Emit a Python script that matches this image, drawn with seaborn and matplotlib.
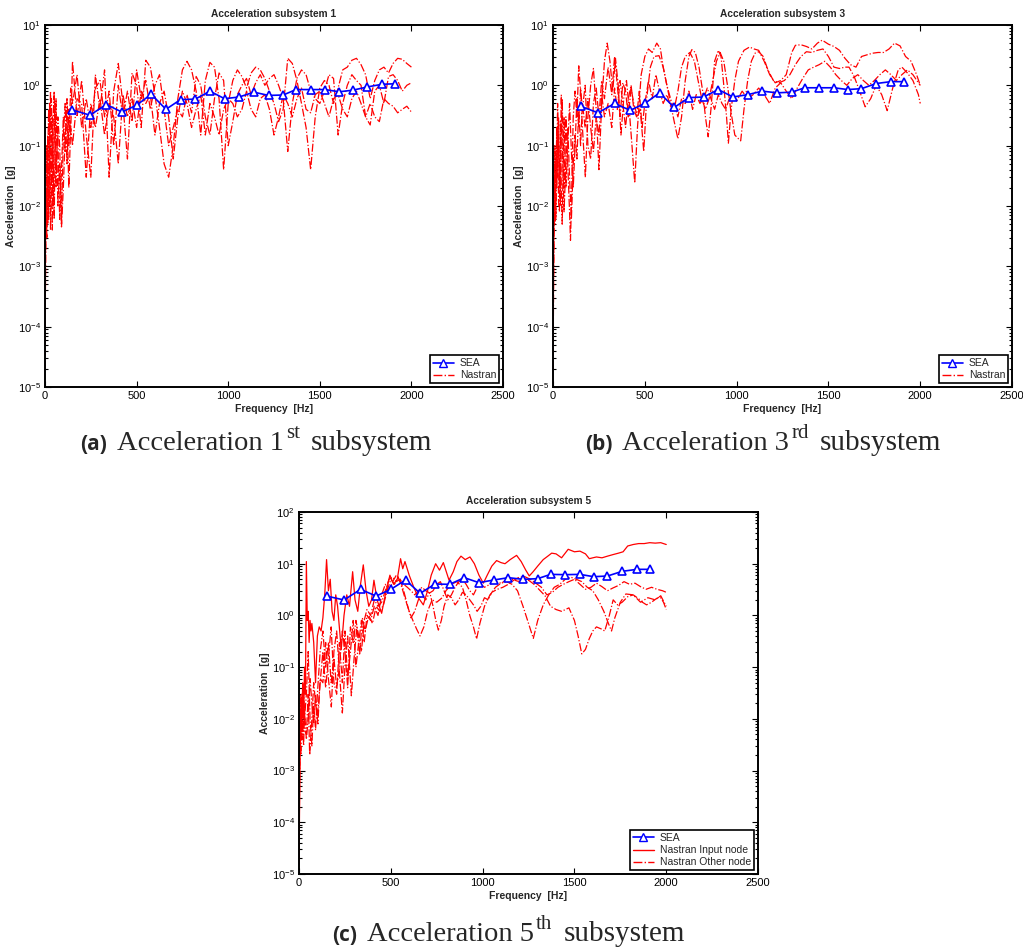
import numpy as np
import pandas as pd
import matplotlib
matplotlib.use("Agg")
import matplotlib.pyplot as plt
from matplotlib.lines import Line2D
import seaborn as sns

# ---------------- SEA band results (one value per band) ----------------
SEA_FREQ = [150, 245, 335, 420, 500, 580, 660, 740, 820, 900, 980, 1060,
            1140, 1220, 1300, 1370, 1450, 1530, 1605, 1680, 1760, 1840, 1910]
SEA_SUB1 = [0.39, 0.32, 0.48, 0.36, 0.47, 0.71, 0.40, 0.58, 0.59, 0.80, 0.60, 0.64,
            0.77, 0.68, 0.69, 0.85, 0.85, 0.85, 0.78, 0.83, 0.94, 1.04, 1.06]
SEA_SUB3 = [0.45, 0.35, 0.50, 0.385, 0.50, 0.75, 0.43, 0.625, 0.64, 0.85, 0.64, 0.70,
            0.80, 0.75, 0.77, 0.91, 0.91, 0.91, 0.85, 0.88, 1.07, 1.15, 1.15]
SEA_SUB5 = [2.37, 1.99, 3.19, 2.37, 3.19, 4.84, 2.67, 4.05, 3.99, 5.37, 4.30, 4.84,
            5.37, 4.99, 5.14, 6.22, 6.14, 6.22, 5.61, 5.78, 7.12, 7.78, 7.78]

# ---------------- Nastran responses, subsystem 1 ----------------
N1_FREQ = [0, 2, 5, 10, 15, 20, 25, 30, 35, 40, 45, 50, 55, 60, 70, 80, 90, 100, 110,
           120, 130, 140, 150, 175, 200, 225, 250, 275, 300, 325, 350, 375, 400, 425,
           450, 475, 500, 525, 550, 575, 600, 625, 650, 675, 700, 725, 750, 775, 800,
           825, 850, 875, 900, 925, 950, 975, 1000, 1025, 1050, 1075, 1100, 1125, 1150,
           1175, 1200, 1225, 1250, 1275, 1300, 1325, 1350, 1375, 1400, 1425, 1450, 1475,
           1500, 1525, 1550, 1575, 1600, 1625, 1650, 1675, 1700, 1725, 1750, 1775, 1800,
           1825, 1850, 1875, 1900, 1925, 1950, 1975, 2000]
N1_NODE_A = [2e-5, 3e-4, 0.003, 0.02, 0.15, 0.006, 0.1, 0.8, 0.05, 0.004, 0.3, 0.8, 0.06,
             0.02, 0.3, 0.1, 0.005, 0.15, 0.5, 0.05, 0.4, 0.15, 2.5, 0.3, 1.2, 0.15, 0.03,
             1.5, 0.4, 1.8, 0.03, 0.8, 2.3, 0.5, 0.06, 1.6, 1.0, 0.2, 2.6, 2.0, 0.7, 0.2,
             0.05, 0.03, 0.1, 0.6, 1.8, 2.5, 1.8, 0.8, 0.15, 1.2, 2.4, 2.0, 0.6, 0.04, 0.5,
             1.2, 1.8, 1.4, 0.9, 1.6, 2.0, 1.8, 1.3, 0.8, 0.5, 0.25, 0.4, 2.8, 2.3, 1.2,
             0.5, 0.2, 0.04, 0.3, 0.9, 1.2, 1.0, 0.5, 0.9, 1.8, 2.0, 2.6, 2.8, 2.2, 1.5,
             0.6, 1.2, 1.8, 2.0, 1.6, 2.3, 2.8, 2.7, 2.3, 2.0]
N1_NODE_B = [1e-4, 0.002, 0.02, 0.003, 0.08, 0.4, 0.01, 0.05, 0.6, 0.08, 0.01, 0.2, 0.5,
             0.04, 0.15, 0.006, 0.04, 0.3, 0.08, 0.6, 0.1, 0.9, 0.5, 1.5, 0.2, 0.6, 0.2,
             0.9, 1.2, 0.3, 0.8, 0.1, 1.0, 0.3, 0.8, 0.25, 1.8, 0.6, 1.2, 0.4, 1.0, 1.5,
             0.4, 0.1, 0.2, 0.4, 0.3, 0.7, 0.35, 1.4, 1.0, 0.3, 0.15, 0.6, 1.6, 1.2, 0.1,
             0.25, 0.7, 1.0, 1.3, 0.7, 1.1, 1.5, 1.0, 1.3, 1.5, 1.0, 0.6, 0.08, 0.5, 1.3,
             1.8, 1.5, 0.8, 0.6, 0.5, 0.8, 1.5, 1.3, 0.15, 0.5, 1.0, 1.5, 1.2, 1.0, 0.3,
             0.22, 0.8, 1.0, 0.5, 1.4, 1.5, 1.2, 0.8, 1.0, 1.1]
N1_NODE_C = [5e-5, 0.001, 0.008, 0.1, 0.005, 0.03, 0.5, 0.004, 0.02, 0.3, 0.05, 0.006,
             0.08, 0.6, 0.01, 0.05, 0.0045, 0.02, 0.15, 0.3, 0.02, 0.2, 0.1, 0.6, 0.5,
             0.03, 0.5, 0.2, 0.6, 0.15, 0.5, 0.3, 0.05, 0.7, 0.3, 0.6, 0.2, 0.8, 0.5, 0.7,
             0.15, 0.5, 0.8, 0.3, 0.06, 0.3, 0.8, 0.5, 0.2, 0.4, 0.7, 0.15, 0.5, 0.3, 0.15,
             0.4, 0.6, 0.5, 0.3, 0.4, 0.8, 0.4, 0.3, 0.6, 0.7, 0.4, 0.15, 0.3, 0.7, 0.5,
             0.3, 0.6, 0.9, 0.4, 0.35, 0.7, 0.8, 0.5, 0.3, 0.6, 0.7, 0.4, 0.3, 0.6, 0.8,
             0.5, 0.3, 0.5, 0.3, 0.25, 0.6, 0.5, 0.45, 0.35, 0.4, 0.45, 0.36]

# ---------------- Nastran responses, subsystem 3 ----------------
N3_FREQ_A = [0, 3, 6, 10, 15, 20, 25, 30, 35, 40, 45, 50, 55, 60, 70, 80, 90, 95, 100,
             110, 120, 130, 140, 150, 160, 176, 190, 205, 220, 235, 250, 265, 280, 295,
             310, 325, 340, 355, 370, 385, 400, 415, 430, 445, 460, 480, 500, 520, 540,
             565, 585, 600, 620, 640, 660, 680, 700, 720, 740, 756, 775, 795, 815, 830,
             845, 860, 880, 900, 915, 930, 945, 955, 970, 990, 1010, 1040, 1070, 1095,
             1120, 1150, 1180, 1210, 1240, 1270, 1300, 1320, 1350, 1380, 1410, 1440, 1466,
             1500, 1530, 1560, 1590, 1620, 1650, 1680, 1710, 1740, 1770, 1800, 1830, 1860,
             1890, 1920, 1950, 1980, 2000]
N3_NODE_A = [2e-5, 4e-4, 0.004, 0.05, 0.01, 0.2, 0.03, 0.3, 0.05, 0.01, 0.15, 0.6, 0.1,
             0.02, 0.3, 0.05, 0.008, 0.0027, 0.01, 0.3, 0.8, 0.3, 2.1, 0.8, 0.2, 0.03, 0.3,
             1.0, 1.9, 0.4, 0.04, 0.5, 2.5, 5.0, 2.5, 0.8, 2.8, 1.0, 0.15, 0.6, 1.2, 0.4,
             0.1, 0.024, 0.2, 1.5, 3.0, 4.0, 3.5, 5.0, 4.0, 2.0, 1.0, 0.5, 0.25, 0.13, 0.3,
             1.2, 3.0, 3.9, 3.5, 2.0, 0.8, 0.3, 0.14, 0.4, 2.5, 3.8, 3.0, 1.0, 0.3, 0.11,
             0.4, 1.2, 2.5, 3.8, 4.3, 4.0, 3.8, 2.5, 1.5, 1.1, 1.2, 1.5, 3.5, 4.6, 4.7, 4.4,
             4.0, 5.0, 5.6, 4.8, 4.4, 3.8, 2.8, 2.2, 2.0, 3.0, 3.2, 3.4, 3.5, 3.5, 4.0, 5.0,
             4.5, 3.0, 2.5, 1.5, 1.0]
N3_FREQ_B = [0, 3, 6, 10, 15, 20, 25, 30, 35, 40, 45, 50, 55, 60, 70, 80, 90, 100, 110,
             120, 130, 140, 150, 160, 175, 190, 205, 220, 235, 250, 265, 280, 300, 320,
             335, 350, 365, 380, 395, 410, 425, 440, 460, 475, 494, 510, 530, 550, 577,
             600, 620, 640, 659, 680, 700, 720, 745, 770, 790, 810, 830, 850, 870, 890,
             910, 930, 950, 970, 990, 1010, 1022, 1040, 1060, 1080, 1100, 1120, 1145, 1170,
             1200, 1230, 1260, 1290, 1320, 1350, 1380, 1410, 1440, 1470, 1500, 1530, 1560,
             1590, 1612, 1640, 1670, 1700, 1730, 1760, 1790, 1820, 1850, 1880, 1900, 1930,
             1960, 1990, 2000]
N3_NODE_B = [1e-4, 0.002, 0.03, 0.005, 0.08, 0.02, 0.2, 0.012, 0.008, 0.25, 0.02, 0.005,
             0.05, 0.3, 0.02, 0.1, 0.5, 0.08, 0.02, 0.1, 0.6, 0.2, 0.9, 0.4, 1.0, 0.1, 0.06,
             0.5, 0.9, 0.3, 1.2, 0.6, 2.0, 0.7, 3.0, 1.0, 0.3, 1.1, 0.8, 0.3, 0.9, 0.5, 0.3,
             0.4, 0.08, 0.6, 2.0, 3.0, 3.1, 2.0, 1.0, 0.6, 0.39, 0.8, 2.0, 3.0, 3.5, 2.5,
             1.2, 0.6, 0.4, 0.6, 1.2, 2.5, 3.5, 2.5, 1.0, 0.35, 0.15, 0.13, 0.12, 0.4, 1.2,
             2.5, 3.4, 3.6, 3.0, 1.8, 1.2, 1.1, 1.2, 1.5, 2.2, 3.0, 3.6, 3.5, 3.8, 4.0, 3.0,
             2.0, 1.9, 2.0, 2.0, 1.4, 0.8, 0.44, 0.6, 1.0, 0.7, 0.38, 0.9, 1.8, 2.0, 1.6,
             1.2, 0.7, 0.5]
N3_FREQ_C = [0, 3, 6, 10, 15, 20, 25, 30, 35, 40, 45, 50, 55, 60, 70, 80, 90, 100, 110,
             120, 130, 140, 150, 160, 175, 190, 205, 220, 235, 250, 265, 280, 300, 320,
             335, 350, 365, 380, 395, 410, 425, 440, 455, 470, 485, 500, 520, 540, 560,
             580, 600, 620, 640, 660, 680, 700, 720, 740, 760, 780, 800, 820, 840, 860,
             880, 900, 920, 940, 960, 980, 1000, 1030, 1060, 1090, 1120, 1150, 1180, 1210,
             1240, 1270, 1300, 1330, 1360, 1390, 1420, 1450, 1480, 1510, 1540, 1570, 1600,
             1630, 1660, 1690, 1720, 1750, 1780, 1810, 1840, 1870, 1900, 1930, 1960, 1990,
             2000]
N3_NODE_C = [5e-5, 0.001, 0.01, 0.1, 0.006, 0.04, 0.5, 0.08, 0.02, 0.06, 0.7, 0.1, 0.03,
             0.008, 0.05, 0.2, 0.03, 0.006, 0.05, 0.15, 0.06, 0.4, 0.1, 0.5, 0.2, 0.6, 0.2,
             0.08, 0.3, 0.15, 0.7, 0.3, 0.5, 0.2, 0.9, 0.4, 1.2, 0.5, 0.2, 0.6, 1.0, 0.4,
             0.3, 0.8, 0.2, 0.5, 1.2, 0.6, 1.5, 0.8, 0.5, 0.7, 0.45, 0.5, 0.3, 0.6, 0.5,
             0.8, 0.4, 0.7, 0.5, 0.6, 0.9, 0.6, 0.4, 0.7, 0.5, 0.4, 0.6, 0.7, 0.55, 0.8,
             0.6, 0.7, 0.9, 0.7, 0.5, 0.9, 1.1, 0.8, 0.6, 0.9, 1.3, 1.8, 2.0, 2.2, 2.5, 2.0,
             1.5, 1.2, 1.0, 1.3, 1.5, 1.2, 1.0, 1.2, 1.5, 1.8, 1.5, 1.2, 1.5, 1.8, 1.5, 1.1,
             1.0]

# ---------------- Nastran responses, subsystem 5 ----------------
N5_INPUT_FREQ = [0, 3, 6, 10, 15, 20, 25, 30, 35, 40, 45, 50, 55, 60, 65, 70, 80, 90, 100,
                 110, 120, 130, 140, 150, 160, 170, 180, 190, 200, 210, 230, 245, 260, 275,
                 292, 305, 320, 335, 350, 365, 380, 395, 408, 425, 450, 470, 495, 515, 535,
                 553, 565, 577, 600, 625, 650, 677, 700, 720, 744, 765, 786, 805, 817, 840,
                 860, 882, 905, 931, 955, 980, 1004, 1025, 1050, 1076, 1100, 1122, 1150,
                 1185, 1210, 1235, 1254, 1275, 1300, 1330, 1355, 1376, 1400, 1430, 1466,
                 1500, 1530, 1560, 1581, 1600, 1620, 1650, 1680, 1710, 1740, 1765, 1790,
                 1820, 1850, 1880, 1910, 1940, 1970, 2000]
N5_INPUT = [1.5e-5, 2e-4, 0.003, 0.02, 0.008, 0.05, 0.01, 0.1, 0.03, 11, 0.8, 1.2, 0.3,
            0.8, 0.5, 0.7, 0.3, 0.05, 0.4, 0.6, 0.5, 0.9, 2.5, 12, 3, 5, 1.2, 0.8, 2.5,
            1.5, 0.22, 1.0, 2.5, 1.5, 7, 2, 1.2, 4, 9.5, 3, 1.5, 2, 4.8, 2, 1.1, 2.5, 6, 4,
            5, 12.5, 8, 11, 6, 3.5, 2.2, 1.6, 3, 6, 10, 7.5, 10.5, 6.5, 4.8, 7, 11, 14, 12,
            13.5, 10, 6, 4.2, 6, 9, 11.5, 10.5, 10, 12, 14.5, 11, 7.5, 5.8, 7, 9, 12, 14,
            16, 15.5, 13, 19, 17, 17.5, 15.5, 12.5, 13, 13.5, 13, 14, 15, 16, 17, 22, 23.5,
            24.5, 24.5, 25.5, 25, 25.5, 23.5]
N5_OTHER_FREQ_A = [0, 3, 6, 10, 15, 20, 25, 30, 40, 50, 60, 70, 80, 90, 100, 115, 130,
                   145, 160, 175, 190, 205, 220, 236, 250, 265, 280, 295, 310, 325, 340,
                   355, 370, 390, 410, 430, 450, 470, 490, 510, 530, 550, 570, 590, 610,
                   630, 650, 670, 690, 710, 730, 750, 770, 790, 810, 830, 850, 870, 890,
                   910, 930, 950, 970, 990, 1010, 1040, 1070, 1100, 1130, 1160, 1190,
                   1220, 1250, 1280, 1310, 1340, 1370, 1400, 1430, 1470, 1500, 1520, 1540,
                   1560, 1580, 1600, 1620, 1645, 1665, 1690, 1711, 1735, 1760, 1790, 1820,
                   1850, 1870, 1893, 1920, 1945, 1966, 1985, 2000]
N5_OTHER_A = [1e-4, 0.002, 0.01, 0.004, 0.03, 0.008, 0.003, 0.015, 0.004, 0.01, 0.06,
              0.02, 0.008, 0.03, 0.01, 0.05, 0.2, 0.04, 0.15, 0.6, 0.05, 0.03, 0.3, 0.05,
              0.5, 0.06, 0.2, 0.8, 0.1, 0.3, 0.8, 0.3, 1.0, 0.8, 1.5, 1.0, 2.5, 4.0, 3.0,
              4.5, 6.0, 5.0, 3.0, 1.6, 0.9, 1.2, 2.0, 2.5, 2.0, 2.7, 3.0, 4.0, 4.5, 3.0,
              2.0, 2.5, 3.5, 4.5, 5.0, 4.0, 3.0, 2.5, 3.5, 4.0, 3.5, 4.0, 4.5, 4.2, 4.8,
              5.0, 4.6, 4.5, 4.8, 4.0, 3.1, 2.4, 1.5, 1.3, 1.2, 1.4, 0.8, 0.4, 0.18, 0.22,
              0.35, 0.5, 0.6, 0.55, 0.5, 1.0, 2.0, 1.6, 1.8, 2.3, 2.5, 2.1, 1.8, 1.6, 1.8,
              2.1, 2.3, 1.8, 1.3]
N5_OTHER_FREQ_B = [0, 3, 6, 10, 15, 20, 25, 30, 40, 50, 58, 70, 80, 90, 103, 115, 130,
                   145, 160, 176, 190, 205, 220, 236, 250, 265, 285, 300, 315, 330, 345,
                   360, 380, 400, 420, 440, 460, 480, 500, 520, 540, 560, 580, 600, 620,
                   640, 659, 680, 700, 725, 750, 780, 800, 830, 860, 890, 910, 930, 950,
                   967, 985, 1010, 1040, 1070, 1100, 1130, 1160, 1190, 1220, 1250, 1276,
                   1300, 1330, 1360, 1390, 1420, 1450, 1480, 1510, 1540, 1570, 1600, 1630,
                   1660, 1685, 1702, 1720, 1750, 1780, 1820, 1860, 1900, 1940, 1970, 2000]
N5_OTHER_B = [2e-5, 5e-4, 0.005, 0.002, 0.01, 0.004, 0.02, 0.006, 0.005, 0.03, 0.002,
              0.01, 0.05, 0.02, 0.008, 0.06, 0.05, 0.3, 0.06, 0.017, 0.2, 0.5, 0.08,
              0.013, 0.1, 0.4, 0.028, 0.15, 0.6, 0.17, 0.9, 0.5, 1.0, 0.7, 1.5, 1.2, 1.6,
              3.0, 5.0, 4.0, 5.5, 3.5, 2.0, 1.2, 0.8, 0.55, 0.4, 0.6, 1.2, 2.0, 1.8, 2.2,
              3.0, 4.0, 4.5, 3.5, 2.0, 1.0, 0.6, 0.35, 0.7, 1.5, 2.5, 3.5, 4.2, 4.5, 4.0,
              3.0, 1.5, 0.7, 0.36, 0.8, 1.6, 2.5, 3.5, 4.0, 5.0, 5.5, 5.0, 4.5, 3.5, 3.0,
              2.0, 1.2, 0.7, 0.5, 0.9, 1.8, 2.6, 2.5, 1.8, 2.2, 2.0, 2.4, 1.5]
N5_OTHER_FREQ_C = [0, 3, 6, 10, 15, 20, 25, 30, 40, 50, 60, 70, 80, 90, 100, 115, 130,
                   145, 160, 175, 190, 205, 220, 236, 250, 265, 280, 295, 310, 325, 340,
                   355, 370, 390, 410, 430, 450, 470, 490, 510, 530, 550, 570, 590, 610,
                   630, 650, 670, 690, 713, 730, 745, 759, 775, 790, 810, 830, 850, 870,
                   890, 910, 930, 950, 970, 990, 1010, 1030, 1050, 1080, 1110, 1140, 1170,
                   1200, 1230, 1260, 1290, 1320, 1350, 1380, 1410, 1440, 1470, 1500, 1530,
                   1560, 1590, 1620, 1650, 1680, 1710, 1740, 1770, 1800, 1830, 1860, 1890,
                   1920, 1950, 1980, 2000]
N5_OTHER_C = [3e-5, 8e-4, 0.008, 0.03, 0.005, 0.015, 0.05, 0.01, 0.03, 0.2, 0.01, 0.003,
              0.02, 0.006, 0.03, 0.2, 0.5, 0.1, 0.3, 0.05, 0.15, 0.04, 0.1, 0.5, 0.2, 0.04,
              0.6, 0.3, 0.8, 0.4, 0.2, 0.8, 1.3, 1.0, 2.0, 1.5, 1.8, 3.0, 5.0, 5.5, 4.5,
              5.0, 4.0, 3.5, 3.0, 2.5, 3.0, 3.5, 3.0, 2.7, 1.5, 0.8, 0.52, 0.8, 1.5, 2.5,
              2.2, 1.6, 2.0, 2.8, 2.5, 2.0, 1.6, 1.2, 1.5, 2.2, 2.0, 2.8, 3.2, 3.5, 4.0,
              4.8, 5.5, 5.6, 5.0, 4.2, 3.5, 2.5, 2.8, 3.5, 4.0, 4.5, 5.0, 4.0, 3.2, 3.5,
              4.2, 3.6, 3.0, 3.4, 3.8, 4.5, 4.0, 4.2, 3.6, 3.2, 3.5, 3.2, 3.0, 2.8]

TITLES = ["Acceleration subsystem 1", "Acceleration subsystem 3", "Acceleration subsystem 5"]
X_TICKS = [0, 500, 1000, 1500, 2000, 2500]

sns.set_theme(style="ticks")
plt.rcParams["font.family"] = ["Liberation Sans", "DejaVu Sans"]
plt.rcParams["mathtext.fontset"] = "custom"
plt.rcParams["mathtext.rm"] = "Liberation Sans"

RED = "#ff0000"
BLUE = "#0000ff"
W, H = 1023, 949

fig = plt.figure(figsize=(W / 100, H / 100), dpi=100)
fig.patch.set_facecolor("white")

ax_a = fig.add_axes([0.0440, 0.5922, 0.4477, 0.3815])
ax_b = fig.add_axes([0.5406, 0.5922, 0.4487, 0.3815])
ax_c = fig.add_axes([0.2923, 0.0790, 0.4487, 0.3815])


def nastran(ax, freq, vals, style):
    df = pd.DataFrame({"f": freq, "a": vals})
    sns.lineplot(data=df, x="f", y="a", ax=ax, color=RED, linewidth=0.9,
                 linestyle=style, sort=False, estimator=None)


def sea(ax, vals):
    df = pd.DataFrame({"f": SEA_FREQ, "a": vals})
    sns.lineplot(data=df, x="f", y="a", ax=ax, color=BLUE, linewidth=1.2,
                 marker="^", markersize=5.5, markerfacecolor="white",
                 markeredgecolor=BLUE, markeredgewidth=1.2, sort=False, estimator=None)


def style_axes(ax, title, ymax):
    ax.set_yscale("log")
    ax.set_xlim(0, 2500)
    ax.set_ylim(1e-5, ymax)
    ax.set_xticks(X_TICKS)
    ax.set_xticklabels([str(t) for t in X_TICKS])
    ax.tick_params(which="both", direction="in", top=True, right=True,
                   labelsize=8, colors="black", width=0.8)
    ax.tick_params(which="major", length=4, pad=3)
    ax.tick_params(which="minor", length=2)
    ax.yaxis.set_minor_locator(matplotlib.ticker.LogLocator(base=10, subs=np.arange(2, 10), numticks=20))
    ax.yaxis.set_minor_formatter(matplotlib.ticker.NullFormatter())
    for sp in ax.spines.values():
        sp.set_linewidth(1.4)
        sp.set_color("black")
    ax.set_title(title, fontsize=7.3, fontweight="bold", pad=6)
    ax.set_xlabel("Frequency  [Hz]", fontsize=7.5, fontweight="bold", labelpad=2)
    ax.set_ylabel("Acceleration  [g]", fontsize=7.5, fontweight="bold", labelpad=1)


def legend(ax, entries):
    handles = []
    for label, kind in entries:
        if kind == "sea":
            h = Line2D([], [], color=BLUE, lw=1.2, marker="^", markersize=5.5,
                       markerfacecolor="white", markeredgecolor=BLUE)
        elif kind == "solid":
            h = Line2D([], [], color=RED, lw=1.0, linestyle="-")
        else:
            h = Line2D([], [], color=RED, lw=1.0, linestyle="-.")
        handles.append(h)
    leg = ax.legend(handles, [e[0] for e in entries], loc="lower right", fontsize=7.5,
                    frameon=True, fancybox=False, edgecolor="black", framealpha=1,
                    borderaxespad=0.35, handlelength=2.0, handletextpad=0.6,
                    borderpad=0.3, labelspacing=0.2)
    leg.get_frame().set_linewidth(1.2)


# subsystem 1
for vals in (N1_NODE_A, N1_NODE_B, N1_NODE_C):
    nastran(ax_a, N1_FREQ, vals, "-.")
sea(ax_a, SEA_SUB1)
style_axes(ax_a, TITLES[0], 10)
legend(ax_a, [("SEA", "sea"), ("Nastran", "dashdot")])

# subsystem 3
nastran(ax_b, N3_FREQ_A, N3_NODE_A, "-.")
nastran(ax_b, N3_FREQ_B, N3_NODE_B, "-.")
nastran(ax_b, N3_FREQ_C, N3_NODE_C, "-.")
sea(ax_b, SEA_SUB3)
style_axes(ax_b, TITLES[1], 10)
legend(ax_b, [("SEA", "sea"), ("Nastran", "dashdot")])

# subsystem 5
nastran(ax_c, N5_INPUT_FREQ, N5_INPUT, "-")
nastran(ax_c, N5_OTHER_FREQ_A, N5_OTHER_A, "-.")
nastran(ax_c, N5_OTHER_FREQ_B, N5_OTHER_B, "-.")
nastran(ax_c, N5_OTHER_FREQ_C, N5_OTHER_C, "-.")
sea(ax_c, SEA_SUB5)
style_axes(ax_c, TITLES[2], 100)
legend(ax_c, [("SEA", "sea"), ("Nastran Input node", "solid"),
              ("Nastran Other node", "dashdot")])

renderer = fig.canvas.get_renderer()
SERIF = ["Liberation Serif", "DejaVu Serif"]


# sub-figure captions: bold tag, serif body with a raised ordinal suffix
def caption(x_px, base_px, tag, number, suffix):
    pieces = [
        (tag, 15, ["Open Sans", "DejaVu Sans"], "bold", 0, 10),
        ("Acceleration " + number, 20.5, SERIF, "normal", 0, 2),
        (suffix, 15, SERIF, "normal", 12, 11),
        ("subsystem", 21, SERIF, "normal", 0, 0),
    ]
    cur = x_px
    for text, size, fam, weight, rise, gap in pieces:
        t = fig.text(cur / W, (H - base_px + rise) / H, text, fontsize=size,
                     family=fam, fontweight=weight, va="baseline", ha="left")
        bb = t.get_window_extent(renderer)
        cur = bb.x1 + gap


caption(80, 450, "(a)", "1", "st")
caption(585, 450, "(b)", "3", "rd")
caption(332, 941, "(c)", "5", "th")

fig.savefig("out.png", dpi=100, facecolor="white")
